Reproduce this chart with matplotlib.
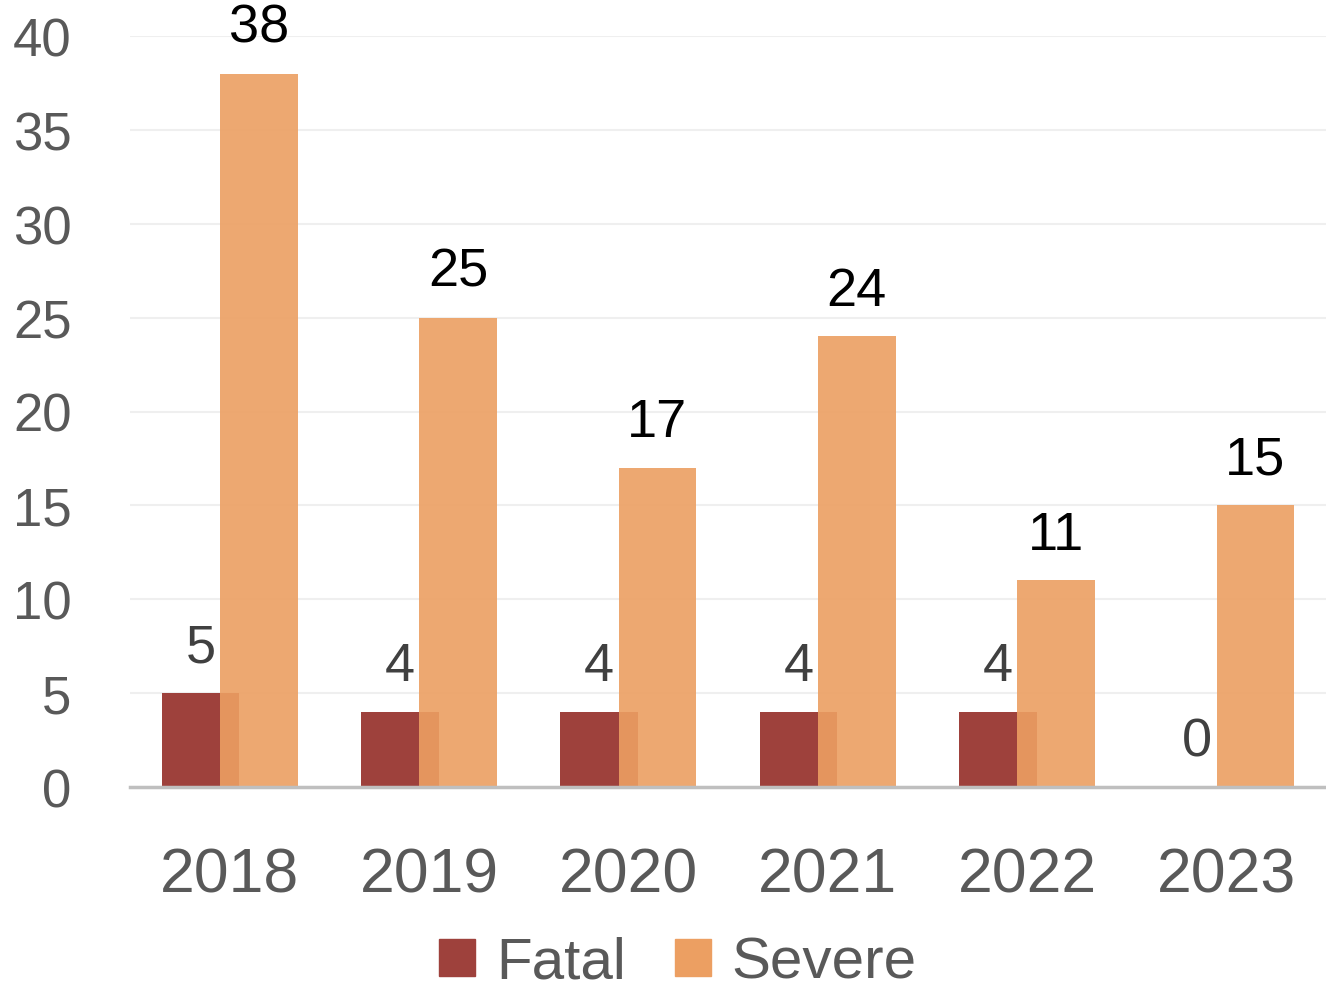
import numpy as np
import matplotlib.pyplot as plt
from matplotlib.patches import Patch

years = ["2018", "2019", "2020", "2021", "2022", "2023"]
fatal = [5, 4, 4, 4, 4, 0]
severe = [38, 25, 17, 24, 11, 15]

plt.rcParams['font.family'] = ['Liberation Sans', 'DejaVu Sans']

fatal_color = "#9E413C"
severe_color = "#EC9F62"

fig = plt.figure(figsize=(13.26, 9.95), dpi=100)
ax = fig.add_axes([130 / 1326, 1 - 788 / 995, 1 - 130 / 1326, (788 - 37) / 995])

x = np.arange(len(years))
w = 0.39
off = 0.146

b1 = ax.bar(x - off, fatal, w, color=fatal_color, zorder=2)
b2 = ax.bar(x + off, severe, w, color=severe_color, alpha=0.9, zorder=3)

for xi, v in zip(x, fatal):
    ax.annotate(str(v), (xi - off, v), xytext=(0, 15), textcoords="offset points",
                ha="center", va="bottom", fontsize=39, color="#404040")
for xi, v in zip(x, severe):
    ax.annotate(str(v), (xi + off, v), xytext=(0, 15), textcoords="offset points",
                ha="center", va="bottom", fontsize=39, color="#000000",
                annotation_clip=False)

ax.set_xlim(-0.5, 5.5)
ax.set_ylim(0, 40)
ax.set_yticks(range(0, 41, 5))
ax.set_xticks(x)
ax.set_xticklabels(years, fontsize=45, color="#595959")
ax.tick_params(axis="y", labelsize=38, labelcolor="#595959", length=0, pad=42)
ax.tick_params(axis="x", length=0, pad=42)
ax.grid(axis="y", color="#EFEFEF", linewidth=1.5, zorder=0)
ax.set_axisbelow(True)
for s in ["top", "right", "left"]:
    ax.spines[s].set_visible(False)
ax.spines["bottom"].set_color("#BFBFBF")
ax.spines["bottom"].set_linewidth(2.5)
ax.spines["bottom"].set_zorder(4)

handles = [Patch(color=fatal_color, label="Fatal"), Patch(color=severe_color, label="Severe")]
fig.legend(handles=handles, loc="center", bbox_to_anchor=(678 / 1326, 1 - 964 / 995),
           ncol=2, frameon=False, fontsize=42, labelcolor="#595959",
           handlelength=0.62, handleheight=0.62, handletextpad=0.35, columnspacing=0.85,
           borderpad=0.2)

fig.savefig("out.png", dpi=100)
